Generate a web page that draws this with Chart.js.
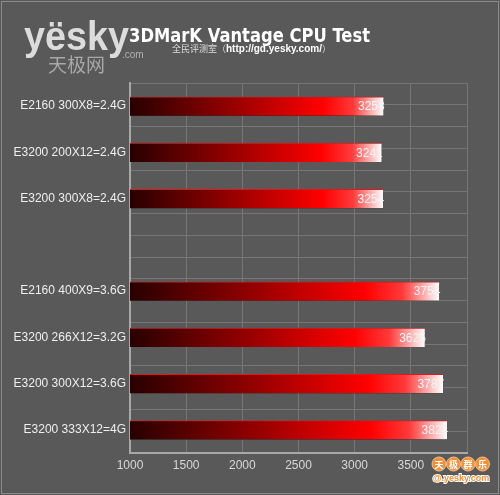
<!DOCTYPE html>
<html>
<head>
<meta charset="utf-8">
<script src="https://cdn.jsdelivr.net/npm/chart.js@4/dist/chart.umd.min.js"></script>
<style>
  html, body { margin: 0; padding: 0; background: #595959; }
  #wrap { width: 500px; height: 495px; position: relative; }
</style>
</head>
<body>
<div id="wrap"><canvas id="cpu-chart"></canvas></div>
<script>
const labels = [
  "E2160 300X8=2.4G",
  "E3200 200X12=2.4G",
  "E3200 300X8=2.4G",
  "",
  "E2160 400X9=3.6G",
  "E3200 266X12=3.2G",
  "E3200 300X12=3.6G",
  "E3200 333X12=4G"
]
const scores = [3258, 3241, 3254, null, 3754, 3625, 3787, 3824]
const xMin = 1000
const xMax = 4000
const xStep = 500

const BG = "#595959"
const GRID = "#767676"
const AXIS = "#a8a8a8"

// each bar gets its own gradient, from the base to the end of the bar
const barGradient = (context) => {
  const chart = context.chart
  const v = context.raw
  if (!chart.chartArea || typeof v !== "number") return "#cc0000"
  const xs = chart.scales.x
  const x0 = xs.getPixelForValue(xMin)
  const x1 = xs.getPixelForValue(v)
  const g = chart.ctx.createLinearGradient(x0, 0, x1, 0)
  g.addColorStop(0, "#280000")
  g.addColorStop(0.4, "#960000")
  g.addColorStop(0.76, "#ff0000")
  g.addColorStop(0.88, "#ff3a3a")
  g.addColorStop(1, "#ffffff")
  return g
}

const backgroundPlugin = {
  id: "background",
  beforeDraw: (chart) => {
    const ctx = chart.ctx
    ctx.save()
    ctx.fillStyle = BG
    ctx.fillRect(0, 0, chart.width, chart.height)
    ctx.strokeStyle = "#8a8a8a"
    ctx.lineWidth = 1
    ctx.strokeRect(1.5, 1.5, chart.width - 3, chart.height - 3)

    // yesky logo, top left
    ctx.textBaseline = "alphabetic"
    ctx.font = "bold 40px 'Liberation Sans'"
    const w = ctx.measureText("yësky").width
    const lg = ctx.createLinearGradient(0, 24, 0, 58)
    lg.addColorStop(0, "#dcdcdc")
    lg.addColorStop(1, "#8c8c8c")
    ctx.fillStyle = lg
    ctx.translate(24, 50)
    ctx.scale(105 / w, 1)
    ctx.fillText("yësky", 0, 0)
    ctx.setTransform(1, 0, 0, 1, 0, 0)
    ctx.fillStyle = "#b0b0b0"
    ctx.font = "10px 'Liberation Sans'"
    ctx.fillText(".com", 122, 58)
    ctx.font = "19px 'Noto Sans CJK SC'"
    ctx.fillStyle = "#a8a8a8"
    ctx.fillText("天极网", 48, 72)
    ctx.restore()
  },
  afterDraw: (chart) => {
    const ctx = chart.ctx
    ctx.save()
    // title
    ctx.fillStyle = "#ffffff"
    ctx.textAlign = "left"
    ctx.textBaseline = "alphabetic"
    ctx.font = "bold 20px 'DejaVu Sans'"
    const title = "3DMarK Vantage CPU Test"
    const tw = ctx.measureText(title).width
    ctx.translate(129, 42)
    ctx.scale(241 / tw, 1)
    ctx.fillText(title, 0, 0)
    ctx.setTransform(1, 0, 0, 1, 0, 0)

    // subtitle
    ctx.font = "9px 'Noto Sans CJK SC'"
    ctx.fillStyle = "#dddddd"
    const part1 = "全民评测室（"
    ctx.fillText(part1, 172, 52)
    let x = 172 + ctx.measureText(part1).width
    ctx.font = "bold 10px 'Liberation Sans'"
    ctx.fillStyle = "#ffffff"
    const part2 = "http://gd.yesky.com/"
    ctx.fillText(part2, x, 52)
    x += ctx.measureText(part2).width
    ctx.font = "9px 'Noto Sans CJK SC'"
    ctx.fillStyle = "#dddddd"
    ctx.fillText("）", x, 52)

    // small logo, bottom right
    const chars = ["天", "极", "群", "乐"]
    ctx.textAlign = "center"
    ctx.textBaseline = "middle"
    chars.forEach((c, i) => {
      const cx = 439 + i * 14.5
      ctx.beginPath()
      ctx.arc(cx, 464, 7, 0, Math.PI * 2)
      ctx.fillStyle = "#f0913a"
      ctx.fill()
      ctx.strokeStyle = "#f7c08a"
      ctx.lineWidth = 1
      ctx.stroke()
      ctx.fillStyle = "#ffffff"
      ctx.font = "bold 9px 'Noto Sans CJK SC'"
      ctx.fillText(c, cx, 464.5)
    })
    ctx.font = "bold 9px 'Liberation Sans'"
    ctx.fillStyle = "#f0913a"
    ctx.strokeStyle = "#ffffff"
    ctx.lineWidth = 2
    ctx.strokeText("@.yesky.com", 461, 479)
    ctx.fillText("@.yesky.com", 461, 479)
    ctx.restore()
  }
}

// drop shadow under the bars
const shadowPlugin = {
  id: "barShadow",
  beforeDatasetsDraw: (chart) => {
    const ctx = chart.ctx
    ctx.save()
    ctx.shadowColor = "rgba(0,0,0,0.75)"
    ctx.shadowOffsetX = 2
    ctx.shadowOffsetY = 3
    ctx.shadowBlur = 3
  },
  afterDatasetsDraw: (chart) => {
    chart.ctx.restore()
  }
}

const valueLabels = {
  id: "valueLabels",
  afterDatasetsDraw: (chart) => {
    const ctx = chart.ctx
    const meta = chart.getDatasetMeta(0)
    ctx.save()
    ctx.font = "12px 'Liberation Sans'"
    ctx.fillStyle = "#f4f4f4"
    ctx.textAlign = "right"
    ctx.textBaseline = "middle"
    meta.data.forEach((bar, i) => {
      if (scores[i] == null) return
      ctx.fillText(String(scores[i]), bar.x + 1, bar.y + 1)
    })
    ctx.restore()
  }
}

const canvas = document.getElementById("cpu-chart")
new Chart(canvas.getContext("2d"), {
  type: "bar",
  data: {
    labels: labels,
    datasets: [{
      data: scores,
      backgroundColor: barGradient,
      borderColor: "#e01818",
      borderWidth: { top: 1, left: 0, right: 0, bottom: 0 },
      borderSkipped: false,
      barPercentage: 0.42,
      categoryPercentage: 1
    }]
  },
  options: {
    indexAxis: "y",
    responsive: true,
    maintainAspectRatio: false,
    animation: false,
    layout: { padding: { top: 83, right: 33, left: 0, bottom: 0 } },
    plugins: {
      legend: { display: false },
      tooltip: { enabled: false }
    },
    scales: {
      x: {
        type: "linear",
        min: xMin,
        max: xMax,
        ticks: {
          stepSize: xStep,
          color: "#d8d8d8",
          font: { family: "'Liberation Sans'", size: 12 },
          padding: 5,
          callback: (v) => (v === xMax ? "" : v)
        },
        grid: { color: GRID, drawTicks: false },
        border: { color: AXIS, width: 2 },
        afterFit: (s) => { s.height = 42 }
      },
      y: {
        type: "category",
        ticks: {
          color: "#eeeeee",
          font: { family: "'Liberation Sans'", size: 12 },
          padding: 4
        },
        grid: { display: false, drawTicks: false },
        border: { color: AXIS, width: 2 },
        afterFit: (s) => { s.width = 130 }
      },
      y2: {
        type: "linear",
        axis: "y",
        position: "right",
        min: 0,
        max: labels.length,
        ticks: { display: false, stepSize: 0.5 },
        grid: { color: GRID, drawTicks: false },
        border: { display: false },
        afterFit: (s) => { s.width = 0 }
      }
    }
  },
  plugins: [backgroundPlugin, shadowPlugin, valueLabels]
})
</script>
</body>
</html>
